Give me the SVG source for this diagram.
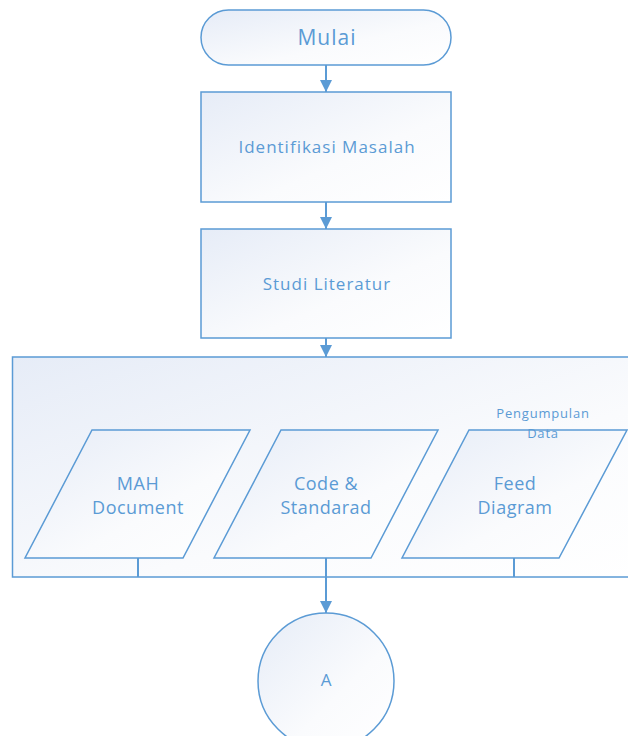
<svg xmlns="http://www.w3.org/2000/svg" width="628" height="736" viewBox="0 0 628 736">
<defs>
<linearGradient id="g" x1="0" y1="0" x2="1" y2="1">
<stop offset="0" stop-color="#E6ECF7"/>
<stop offset="0.6" stop-color="#FAFBFD"/>
<stop offset="1" stop-color="#FFFFFF"/>
</linearGradient>
<marker id="ah" viewBox="0 0 12 12" refX="12" refY="6" markerWidth="12" markerHeight="12" markerUnits="userSpaceOnUse" orient="auto">
<path d="M0,0 L12,6 L0,12 Z" fill="#5B9BD5"/>
</marker>
</defs>
<style>
.s{fill:url(#g);stroke:#5B9BD5;stroke-width:1.5}
.t{font-family:"Open Sans","Noto Sans",sans-serif;fill:#5B9BD5;text-anchor:middle}
.c{stroke:#5B9BD5;stroke-width:2;fill:none}
</style>
<g id="container">
<rect class="s" x="12.5" y="357" width="640" height="220"/>
</g>
<g id="mulai">
<rect class="s" x="201" y="10" width="250" height="55" rx="27.5"/>
<text class="t" x="327" y="45" font-size="21" letter-spacing="1">Mulai</text>
</g>
<g id="identifikasi">
<rect class="s" x="201" y="92" width="250" height="110"/>
<text class="t" x="327" y="153" font-size="17" letter-spacing="1">Identifikasi Masalah</text>
</g>
<g id="studi">
<rect class="s" x="201" y="229" width="250" height="109"/>
<text class="t" x="327" y="290" font-size="17" letter-spacing="1">Studi Literatur</text>
</g>
<g id="mah">
<polygon class="s" points="92,430 250,430 183,558 25,558"/>
<text class="t" x="138" y="490" font-size="18" letter-spacing="0.5">MAH</text>
<text class="t" x="138" y="514" font-size="18" letter-spacing="0.5">Document</text>
</g>
<g id="code">
<polygon class="s" points="281,430 438,430 371,558 214,558"/>
<text class="t" x="326" y="490" font-size="18" letter-spacing="0.5">Code &amp;</text>
<text class="t" x="326" y="514" font-size="18" letter-spacing="0.5">Standarad</text>
</g>
<g id="feed">
<polygon class="s" points="469,430 627,430 559,558 402,558"/>
<text class="t" x="515" y="490" font-size="18" letter-spacing="0.5">Feed</text>
<text class="t" x="515" y="514" font-size="18" letter-spacing="0.5">Diagram</text>
</g>
<g id="container-label">
<text class="t" x="543" y="418" font-size="13" letter-spacing="0.8">Pengumpulan</text>
<text class="t" x="543" y="438" font-size="13" letter-spacing="0.8">Data</text>
</g>
<g id="a">
<circle class="s" cx="326" cy="681" r="68"/>
<text class="t" x="326" y="686" font-size="17">A</text>
</g>
<g id="connectors">
<line class="c" x1="326" y1="65" x2="326" y2="92" marker-end="url(#ah)"/>
<line class="c" x1="326" y1="202" x2="326" y2="229" marker-end="url(#ah)"/>
<line class="c" x1="326" y1="338" x2="326" y2="357" marker-end="url(#ah)"/>
<line class="c" x1="138" y1="558" x2="138" y2="577"/>
<line class="c" x1="514" y1="558" x2="514" y2="577"/>
<line class="c" x1="326" y1="558" x2="326" y2="613" marker-end="url(#ah)"/>
</g>
</svg>
